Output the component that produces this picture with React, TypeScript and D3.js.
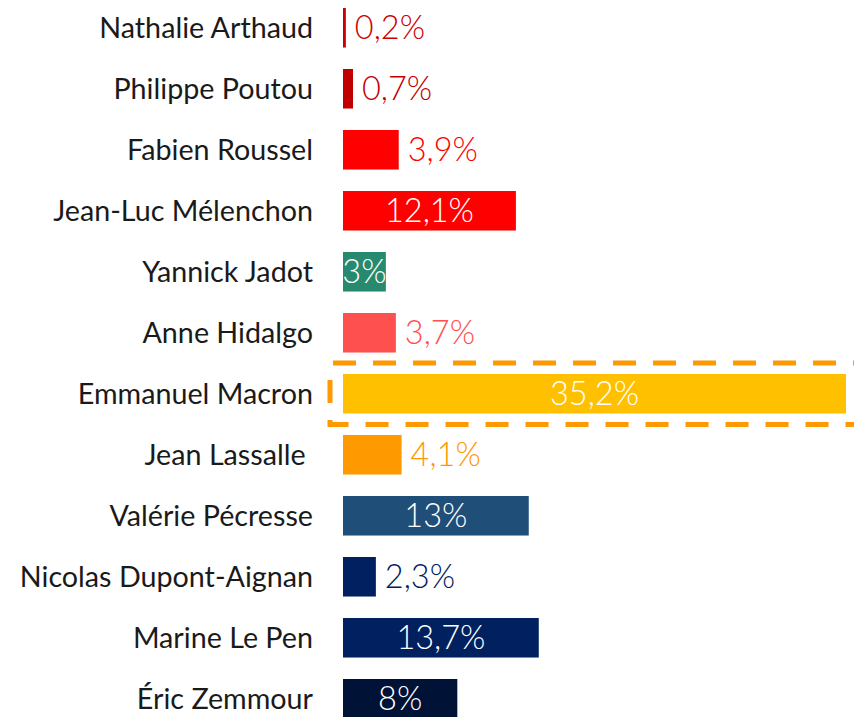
import React, { useEffect, useRef } from "react";
import * as d3 from "d3";

const candidates = [
  "Nathalie Arthaud",
  "Philippe Poutou",
  "Fabien Roussel",
  "Jean-Luc Mélenchon",
  "Yannick Jadot",
  "Anne Hidalgo",
  "Emmanuel Macron",
  "Jean Lassalle ",
  "Valérie Pécresse",
  "Nicolas Dupont-Aignan",
  "Marine Le Pen",
  "Éric Zemmour",
];
const values = [0.2, 0.7, 3.9, 12.1, 3, 3.7, 35.2, 4.1, 13, 2.3, 13.7, 8];
const valueLabels = ["0,2%", "0,7%", "3,9%", "12,1%", "3%", "3,7%", "35,2%", "4,1%", "13%", "2,3%", "13,7%", "8%"];
const colors = [
  "#CC0000", "#C00000", "#FF0000", "#FF0000", "#278A6E", "#FF5050",
  "#FFC000", "#FF9900", "#1F4E79", "#002060", "#002060", "#001236",
];
const highlighted = "Emmanuel Macron";

const W = 854;
const H = 717;

export default function App() {
  const ref = useRef<SVGSVGElement | null>(null);

  useEffect(() => {
    const svg = d3.select(ref.current);
    svg.selectAll("*").remove();

    const step = 61;
    const padIn = 0.352;
    const y0 = 8 - step * padIn / 2;
    const y = d3
      .scaleBand<string>()
      .domain(candidates)
      .range([y0, y0 + step * candidates.length])
      .paddingInner(padIn)
      .paddingOuter(padIn / 2);
    const x = d3.scaleLinear().domain([0, 35.2]).range([343, 846]);

    const data = candidates.map((c, i) => ({
      name: c,
      value: values[i],
      label: valueLabels[i],
      color: colors[i],
    }));

    const labelFont = "Lato, 'Open Sans', sans-serif";

    // highlight box
    const hy = y(highlighted)!;
    svg
      .append("rect")
      .attr("x", 330)
      .attr("y", hy - 11)
      .attr("width", 560)
      .attr("height", y.bandwidth() + 22)
      .attr("fill", "none")
      .attr("stroke", "#FF9900")
      .attr("stroke-width", 5)
      .attr("stroke-dasharray", "23,17")
      .attr("stroke-dashoffset", -3);

    const g = svg.selectAll("g.row").data(data).join("g").attr("class", "row");

    g.append("text")
      .attr("x", 313)
      .attr("y", (d) => y(d.name)! + y.bandwidth() / 2)
      .attr("dy", "0.35em")
      .attr("text-anchor", "end")
      .style("white-space", "pre")
      .attr("font-family", labelFont)
      .attr("font-size", 28.7)
      .attr("fill", "#1a1a1a")
      .text((d) => d.name);

    g.append("rect")
      .attr("x", x(0))
      .attr("y", (d) => y(d.name)!)
      .attr("width", (d) => x(d.value) - x(0))
      .attr("height", y.bandwidth())
      .attr("fill", (d) => d.color);

    g.each(function (d) {
      const gg = d3.select(this);
      const t = gg
        .append("text")
        .attr("y", y(d.name)! + y.bandwidth() / 2)
        .attr("dy", "0.36em")
        .attr("font-family", labelFont)
        .attr("font-weight", 300)
        .attr("font-size", 32.5)
        .text(d.label);
      const tw = (t.node() as SVGTextElement).getComputedTextLength();
      const bw = x(d.value) - x(0);
      if (tw <= bw + 4) {
        t.attr("x", x(0) + bw / 2).attr("text-anchor", "middle").attr("fill", "#FFFFFF");
      } else {
        t.attr("x", x(d.value) + 9).attr("text-anchor", "start").attr("fill", d.color);
      }
    });
  }, []);

  return (
    <svg
      ref={ref}
      width={W}
      height={H}
      style={{ position: "absolute", left: 0, top: 0, background: "#fff" }}
    />
  );
}
